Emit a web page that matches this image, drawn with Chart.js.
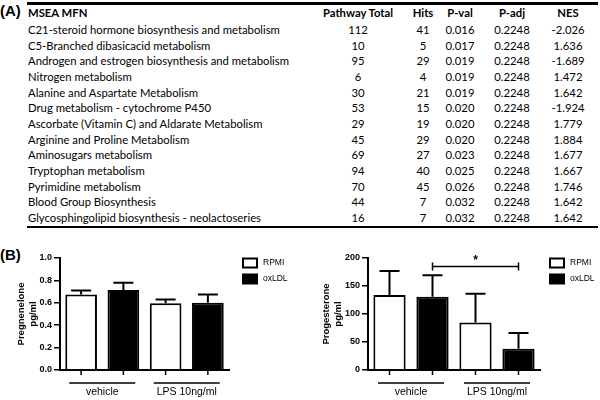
<!DOCTYPE html>
<html>
<head>
<meta charset="utf-8">
<script src="https://cdn.jsdelivr.net/npm/chart.js@4.4.1/dist/chart.umd.min.js"></script>
<style>
  body { margin: 0; width: 600px; height: 400px; position: relative; background: #fff; overflow: hidden; }
  .panel { position: absolute; left: 0; font: bold 15px "Liberation Sans", Arial, sans-serif; color: #000; }
  .rule { position: absolute; left: 27px; width: 571px; background: #000; }
  .cell { position: absolute; font: 11.3px Lato, sans-serif; line-height: 14px; white-space: nowrap; color: #000; }
  .head { font-weight: bold; }
  .mid { transform: translateX(-50%); }
  canvas { position: absolute; }
</style>
</head>
<body>
<div class="panel" style="top:2px">(A)</div>
<div class="panel" style="top:246px">(B)</div>
<div class="rule" style="top:2px;height:3px"></div>
<div class="rule" style="top:226px;height:2px"></div>
<div id="table"></div>
<canvas id="preg" width="300" height="155" style="left:0;top:245px"></canvas>
<canvas id="prog" width="300" height="155" style="left:300px;top:245px"></canvas>
<script>
// table (A)
const headers = ['MSEA MFN', 'Pathway Total', 'Hits', 'P-val', 'P-adj', 'NES'];
const pathways = [
  'C21-steroid hormone biosynthesis and metabolism',
  'C5-Branched dibasicacid metabolism',
  'Androgen and estrogen biosynthesis and metabolism',
  'Nitrogen metabolism',
  'Alanine and Aspartate Metabolism',
  'Drug metabolism - cytochrome P450',
  'Ascorbate (Vitamin C) and Aldarate Metabolism',
  'Arginine and Proline Metabolism',
  'Aminosugars metabolism',
  'Tryptophan metabolism',
  'Pyrimidine metabolism',
  'Blood Group Biosynthesis',
  'Glycosphingolipid biosynthesis - neolactoseries'
];
const totals = [112, 10, 95, 6, 30, 53, 29, 45, 69, 94, 70, 44, 16];
const hits = [41, 5, 29, 4, 21, 15, 19, 29, 27, 40, 45, 7, 7];
const pvals = ['0.016', '0.017', '0.019', '0.019', '0.019', '0.020', '0.020', '0.020', '0.023', '0.025', '0.026', '0.032', '0.032'];
const padj = ['0.2248', '0.2248', '0.2248', '0.2248', '0.2248', '0.2248', '0.2248', '0.2248', '0.2248', '0.2248', '0.2248', '0.2248', '0.2248'];
const nes = ['-2.026', '1.636', '-1.689', '1.472', '1.642', '-1.924', '1.779', '1.884', '1.677', '1.667', '1.746', '1.642', '1.642'];

// bar charts (B)
const groups = ['vehicle', 'LPS 10ng/ml'];
const pregRPMI = [0.675, 0.595];
const pregRPMIsem = [0.035, 0.035];
const pregOxLDL = [0.715, 0.60];
const pregOxLDLsem = [0.065, 0.075];
const progRPMI = [134, 85];
const progRPMIsem = [43, 51];
const progOxLDL = [131, 38];
const progOxLDLsem = [38, 28];

const colX = [28, 358, 423, 460, 512, 568];
const table = document.getElementById('table');
function cell(text, x, y, cls) {
  const d = document.createElement('div');
  d.className = 'cell ' + cls;
  d.style.left = x + 'px';
  d.style.top = (y - 7) + 'px';
  d.textContent = text;
  table.appendChild(d);
}
headers.forEach((h, i) => cell(h, colX[i], 13, 'head' + (i ? ' mid' : '')));
pathways.forEach((p, r) => {
  const y = 30 + r * 15.67;
  const row = [p, totals[r], hits[r], pvals[r], padj[r], nes[r]];
  row.forEach((v, i) => cell(v, colX[i], y, i ? 'mid' : ''));
});

const FONT = '"Liberation Sans", Arial, sans-serif';

const errorBars = {
  id: 'errorBars',
  afterDatasetsDraw(chart) {
    const ctx = chart.ctx, y = chart.scales.y;
    ctx.save();
    ctx.strokeStyle = '#000';
    ctx.lineWidth = 2;
    chart.data.datasets.forEach((ds, i) => {
      chart.getDatasetMeta(i).data.forEach((bar, j) => {
        const top = y.getPixelForValue(ds.data[j] + ds.sem[j]);
        ctx.beginPath();
        ctx.moveTo(bar.x, bar.y);
        ctx.lineTo(bar.x, top);
        ctx.moveTo(bar.x - 10, top);
        ctx.lineTo(bar.x + 10, top);
        ctx.stroke();
      });
    });
    ctx.restore();
  }
};

// small ticks under each bar + line over each group label
const groupAxis = {
  id: 'groupAxis',
  afterDraw(chart) {
    const ctx = chart.ctx, x = chart.scales.x, b = chart.chartArea.bottom;
    ctx.save();
    ctx.strokeStyle = '#000';
    ctx.lineWidth = 1.5;
    chart.data.datasets.forEach((ds, i) => {
      chart.getDatasetMeta(i).data.forEach(bar => {
        ctx.beginPath();
        ctx.moveTo(bar.x, b);
        ctx.lineTo(bar.x, b + 5);
        ctx.stroke();
      });
    });
    groups.forEach((g, i) => {
      const c = x.getPixelForValue(i);
      ctx.beginPath();
      ctx.moveTo(c - 33, b + 13);
      ctx.lineTo(c + 33, b + 13);
      ctx.stroke();
    });
    ctx.restore();
  }
};

const boxLegend = {
  id: 'boxLegend',
  afterDraw(chart, args, opts) {
    const ctx = chart.ctx;
    ctx.save();
    ctx.font = '8.5px ' + FONT;
    ctx.textBaseline = 'middle';
    chart.data.datasets.forEach((ds, i) => {
      const y = opts.y + i * 16;
      ctx.fillStyle = ds.backgroundColor;
      ctx.fillRect(opts.x, y - 4.5, 14, 9);
      ctx.strokeStyle = '#000';
      ctx.lineWidth = 2;
      ctx.strokeRect(opts.x, y - 4.5, 14, 9);
      ctx.fillStyle = '#000';
      ctx.fillText(ds.label, opts.x + 20, y);
    });
    ctx.restore();
  }
};

const bracket = {
  id: 'bracket',
  afterDraw(chart, args, opts) {
    if (!opts.value) return;
    const ctx = chart.ctx, y = chart.scales.y;
    const x1 = chart.getDatasetMeta(opts.from[0]).data[opts.from[1]].x;
    const x2 = chart.getDatasetMeta(opts.to[0]).data[opts.to[1]].x;
    const py = y.getPixelForValue(opts.value);
    ctx.save();
    ctx.strokeStyle = '#000';
    ctx.lineWidth = 1.5;
    ctx.beginPath();
    ctx.moveTo(x1, py); ctx.lineTo(x2, py);
    ctx.moveTo(x1, py - 4); ctx.lineTo(x1, py + 4);
    ctx.moveTo(x2, py - 4); ctx.lineTo(x2, py + 4);
    ctx.stroke();
    ctx.fillStyle = '#000';
    ctx.font = 'bold 12px ' + FONT;
    ctx.textAlign = 'center';
    ctx.fillText(opts.label, (x1 + x2) / 2, py - 2);
    ctx.restore();
  }
};

function makeChart(id, rpmi, rpmiSem, ox, oxSem, yMax, step, digits, title, titlePad, axisWidth, rightPad, legendX, sig) {
  return new Chart(document.getElementById(id), {
    type: 'bar',
    data: {
      labels: groups,
      datasets: [
        { label: 'RPMI', data: rpmi, sem: rpmiSem, backgroundColor: '#fff', borderColor: '#000', borderWidth: 2 },
        { label: 'oxLDL', data: ox, sem: oxSem, backgroundColor: '#000', borderColor: '#000', borderWidth: 2 }
      ]
    },
    options: {
      responsive: false,
      animation: false,
      categoryPercentage: 1.0,
      barPercentage: 0.75,
      layout: { padding: { top: 13, right: rightPad, left: 0, bottom: 0 } },
      plugins: {
        legend: { display: false },
        tooltip: { enabled: false },
        boxLegend: { x: legendX, y: 18 },
        bracket: sig || {}
      },
      scales: {
        x: {
          grid: { display: false, drawTicks: false },
          border: { color: '#000', width: 2 },
          ticks: { color: '#000', padding: 16, font: { family: FONT, size: 10.5 } },
          afterFit(s) { s.height = 30; }
        },
        y: {
          min: 0,
          max: yMax,
          ticks: { stepSize: step, color: '#000', padding: 2, font: { family: FONT, size: 9, weight: 'bold' },
                   callback: v => v.toFixed(digits) },
          grid: { drawOnChartArea: false, drawTicks: true, tickLength: 6, color: '#000', lineWidth: 1.5 },
          border: { color: '#000', width: 2 },
          title: { display: true, text: title, color: '#000', padding: { top: titlePad, bottom: 0 },
                   font: { family: FONT, size: 9.5, weight: 'bold' } },
          afterFit(s) { s.width = axisWidth; }
        }
      }
    },
    plugins: [errorBars, groupAxis, boxLegend, bracket]
  });
}

makeChart('preg', pregRPMI, pregRPMIsem, pregOxLDL, pregOxLDLsem, 1, 0.2, 1,
  ['Pregnenelone', 'pg/ml'], 16, 60, 71, 243, null);
makeChart('prog', progRPMI, progRPMIsem, progOxLDL, progOxLDLsem, 200, 50, 0,
  ['Progesterone', 'pg/ml'], 21, 68, 60, 250,
  { value: 185, from: [1, 0], to: [1, 1], label: '*' });
</script>
</body>
</html>
